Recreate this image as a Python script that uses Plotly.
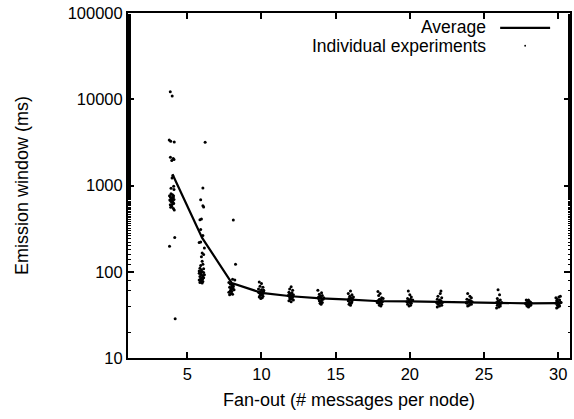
import plotly.graph_objects as go

# ---- data ----
fanout = [4, 6, 8, 10, 12, 14, 16, 18, 20, 22, 24, 26, 28, 30]
average_ms = [1350, 247, 74, 57, 52, 49, 47.5, 45.5, 45.3, 44.5, 44.1, 43.6, 43, 43.3]

exp_x_4 = [3.85, 3.98, 3.78, 3.88, 4.12, 3.86, 4.05, 3.95, 4.1, 4.02, 3.97, 4.08, 3.9, 4.1, 3.8, 3.85, 3.9, 3.95,
           4.0, 4.05, 4.1, 3.82, 3.88, 3.93, 3.98, 4.03, 4.08, 3.85, 3.92, 4.0, 3.95, 4.06, 4.12, 3.88, 4.15, 3.8,
           4.18, 3.9, 4.0, 4.07]
exp_y_4 = [12200, 10900, 3380, 3250, 3200, 2130, 2050, 1950, 2000, 1300, 1220, 980, 930, 900, 760, 740, 720, 700,
           710, 730, 690, 680, 660, 650, 670, 640, 620, 600, 590, 610, 570, 540, 520, 560, 250, 197,
           28.5, 800, 780, 760]

exp_x_6 = [6.2, 6.05, 5.9, 6.05, 6.1, 5.85, 5.95, 5.9, 6.05, 5.8, 5.9, 6.15, 6.0, 6.1, 5.95, 6.0, 6.05, 5.9,
           5.85, 5.95, 6.0, 6.1, 5.8, 5.9, 5.95, 6.05, 5.85, 6.0, 6.1, 5.9, 5.8, 5.95, 6.05, 5.85, 6.0, 5.9,
           6.1, 5.8, 6.15, 6.02, 5.88]
exp_y_6 = [3180, 933, 684, 582, 563, 401, 409, 308, 263, 219, 222, 189, 165, 158, 149, 132, 122, 118,
           110, 105, 100, 98, 96, 94, 92, 90, 88, 86, 85, 83, 80, 78, 77, 75, 74, 100,
           108, 102, 92, 82, 79]

exp_x_8 = [8.1, 8.25, 8.05, 8.2, 7.8, 7.9, 8.0, 8.1, 7.85, 7.95, 8.05, 8.15, 7.9, 8.0, 7.8, 7.95, 8.05, 7.85,
           8.1, 8.0, 7.92, 8.08]
exp_y_8 = [398, 122, 82, 80, 75, 72, 70, 68, 66, 64, 63, 62, 60, 59, 58, 56, 55, 54,
           71, 67, 61, 65]

exp_x_10 = [9.85, 10.0, 9.9, 10.1, 9.8, 10.0, 10.15, 9.9, 10.05, 9.85, 10.1, 9.95, 10.0, 9.9, 10.1, 9.85, 10.05,
            9.95, 10.15, 9.8]
exp_y_10 = [76, 73, 68, 66, 63, 62, 61, 59, 58, 57, 56, 55, 54, 53, 52, 51, 50,
            49, 60, 58]

exp_x_12 = [12.0, 11.9, 12.1, 11.85, 12.05, 11.95, 12.15, 11.8, 12.0, 12.1, 11.9, 12.05, 11.95, 12.15, 11.85,
            12.0, 12.1, 11.9]
exp_y_12 = [67, 63, 61, 58, 57, 55, 54, 53, 52, 51, 50, 49, 48, 47, 46, 45, 53, 56]

exp_x_14 = [13.8, 14.05, 13.9, 14.1, 13.95, 14.0, 13.85, 14.15, 14.05, 13.9, 14.0, 14.1, 13.95, 13.85, 14.2, 14.02]
exp_y_14 = [61, 57, 55, 53, 52, 50, 49, 48, 47, 46, 45, 44, 43, 51, 50, 42]

exp_x_16 = [16.0, 15.85, 16.1, 15.95, 16.05, 15.9, 16.15, 16.0, 15.85, 16.1, 15.95, 16.05, 15.9, 16.2, 16.0]
exp_y_16 = [60, 56, 54, 52, 50, 49, 48, 47, 46, 45, 44, 43, 42, 51, 41]

exp_x_18 = [17.85, 18.0, 17.9, 18.1, 17.95, 18.05, 17.85, 18.15, 18.0, 17.9, 18.1, 17.95, 18.05, 18.2, 17.8]
exp_y_18 = [59, 56, 53, 50, 48, 47, 46, 45, 44, 43, 42, 41, 40, 49, 44]

exp_x_20 = [19.9, 20.0, 20.1, 19.85, 20.05, 19.95, 20.15, 19.9, 20.0, 20.1, 19.85, 20.05, 19.95, 20.2, 19.8]
exp_y_20 = [60, 54, 51, 49, 48, 47, 46, 45, 44, 43, 42, 41, 40, 47, 45]

exp_x_22 = [22.1, 22.05, 21.9, 22.15, 21.85, 22.0, 22.1, 21.95, 21.8, 22.05, 21.9, 22.15, 22.0, 21.85, 22.2]
exp_y_22 = [60, 56, 52, 50, 48, 47, 46, 45, 44, 43, 42, 41, 40, 39, 44]

exp_x_24 = [23.9, 24.05, 24.15, 23.85, 24.0, 24.1, 23.95, 24.05, 23.85, 24.15, 24.0, 23.9, 24.2, 23.8]
exp_y_24 = [56, 52, 50, 48, 47, 46, 45, 44, 43, 42, 41, 40, 45, 44]

exp_x_26 = [25.95, 26.05, 25.9, 26.1, 25.95, 26.0, 25.85, 26.15, 26.05, 25.9, 26.1, 26.0, 25.85, 26.2]
exp_y_26 = [62, 54, 49, 47, 46, 45, 44, 43, 42, 41, 40, 39, 38, 44]

exp_x_28 = [27.85, 27.95, 28.05, 28.15, 27.9, 28.0, 28.1, 27.85, 27.95, 28.05, 28.15, 27.9, 28.0, 28.1, 27.8,
            28.2, 28.0]
exp_y_28 = [47, 46, 45, 44, 44, 43, 42, 42, 41, 40, 41, 40, 39, 45, 43, 43, 47]

exp_x_30 = [30.15, 30.05, 29.85, 29.95, 30.1, 29.9, 30.0, 30.15, 29.85, 30.05, 29.95, 30.1, 30.0, 29.9, 30.2]
exp_y_30 = [52, 51, 50, 48, 47, 46, 45, 44, 43, 42, 41, 40, 39, 38, 44]

exp_x = (exp_x_4 + exp_x_6 + exp_x_8 + exp_x_10 + exp_x_12 + exp_x_14 + exp_x_16 + exp_x_18 + exp_x_20
         + exp_x_22 + exp_x_24 + exp_x_26 + exp_x_28 + exp_x_30)
exp_y = (exp_y_4 + exp_y_6 + exp_y_8 + exp_y_10 + exp_y_12 + exp_y_14 + exp_y_16 + exp_y_18 + exp_y_20
         + exp_y_22 + exp_y_24 + exp_y_26 + exp_y_28 + exp_y_30)

x_ticks = [5, 10, 15, 20, 25, 30]
y_ticks = [10, 100, 1000, 10000, 100000]
y_tick_labels = ["10", "100", "1000", "10000", "100000"]

FONT = "Liberation Sans, Arial, Helvetica, sans-serif"

fig = go.Figure()
fig.add_trace(go.Scatter(x=exp_x, y=exp_y, mode="markers", name="Individual experiments",
                         marker=dict(color="black", size=3, line=dict(width=0)), showlegend=False))
fig.add_trace(go.Scatter(x=fanout, y=average_ms, mode="lines", name="Average",
                         line=dict(color="black", width=2.2), showlegend=False))

# gnuplot-style key (text right-aligned, sample on the right)
fig.add_annotation(x=0.815, y=0.959, xref="x domain", yref="y domain", text="Average",
                   showarrow=False, xanchor="right", yanchor="middle", font=dict(size=17.5, color="black"))
fig.add_annotation(x=0.815, y=0.905, xref="x domain", yref="y domain", text="Individual experiments",
                   showarrow=False, xanchor="right", yanchor="middle", font=dict(size=17.5, color="black"))
fig.add_shape(type="line", xref="x domain", yref="y domain", x0=0.842, x1=0.955, y0=0.957, y1=0.957,
              line=dict(color="black", width=2.2))
fig.add_shape(type="circle", xref="x domain", yref="y domain", x0=0.8965, x1=0.9005, y0=0.902, y1=0.908,
              fillcolor="black", line=dict(width=0))

fig.update_layout(
    width=574, height=419,
    margin=dict(l=128, r=2, t=13, b=61),
    paper_bgcolor="white", plot_bgcolor="white",
    font=dict(family=FONT, size=16, color="black"),
    showlegend=False,
)
fig.update_xaxes(
    range=[1, 30.8], tickvals=x_ticks, ticks="inside", ticklen=6, tickwidth=1.5, tickcolor="black",
    showline=True, linecolor="black", linewidth=2, mirror="allticks", showgrid=False, zeroline=False,
    title=dict(text="Fan-out (# messages per node)", standoff=12, font=dict(size=18)), tickfont=dict(size=16.5),
)
fig.update_yaxes(
    type="log", range=[1, 5], tickvals=y_ticks, ticktext=y_tick_labels,
    ticks="inside", ticklen=6, tickwidth=1.5, tickcolor="black",
    minor=dict(ticks="inside", ticklen=2.5, tickcolor="black", tickwidth=1, showgrid=False),
    showline=True, linecolor="black", linewidth=2, mirror="allticks", showgrid=False, zeroline=False,
    title=dict(text="Emission window (ms)", standoff=34, font=dict(size=18)), tickfont=dict(size=16.5),
)

fig.write_html("out.html")
